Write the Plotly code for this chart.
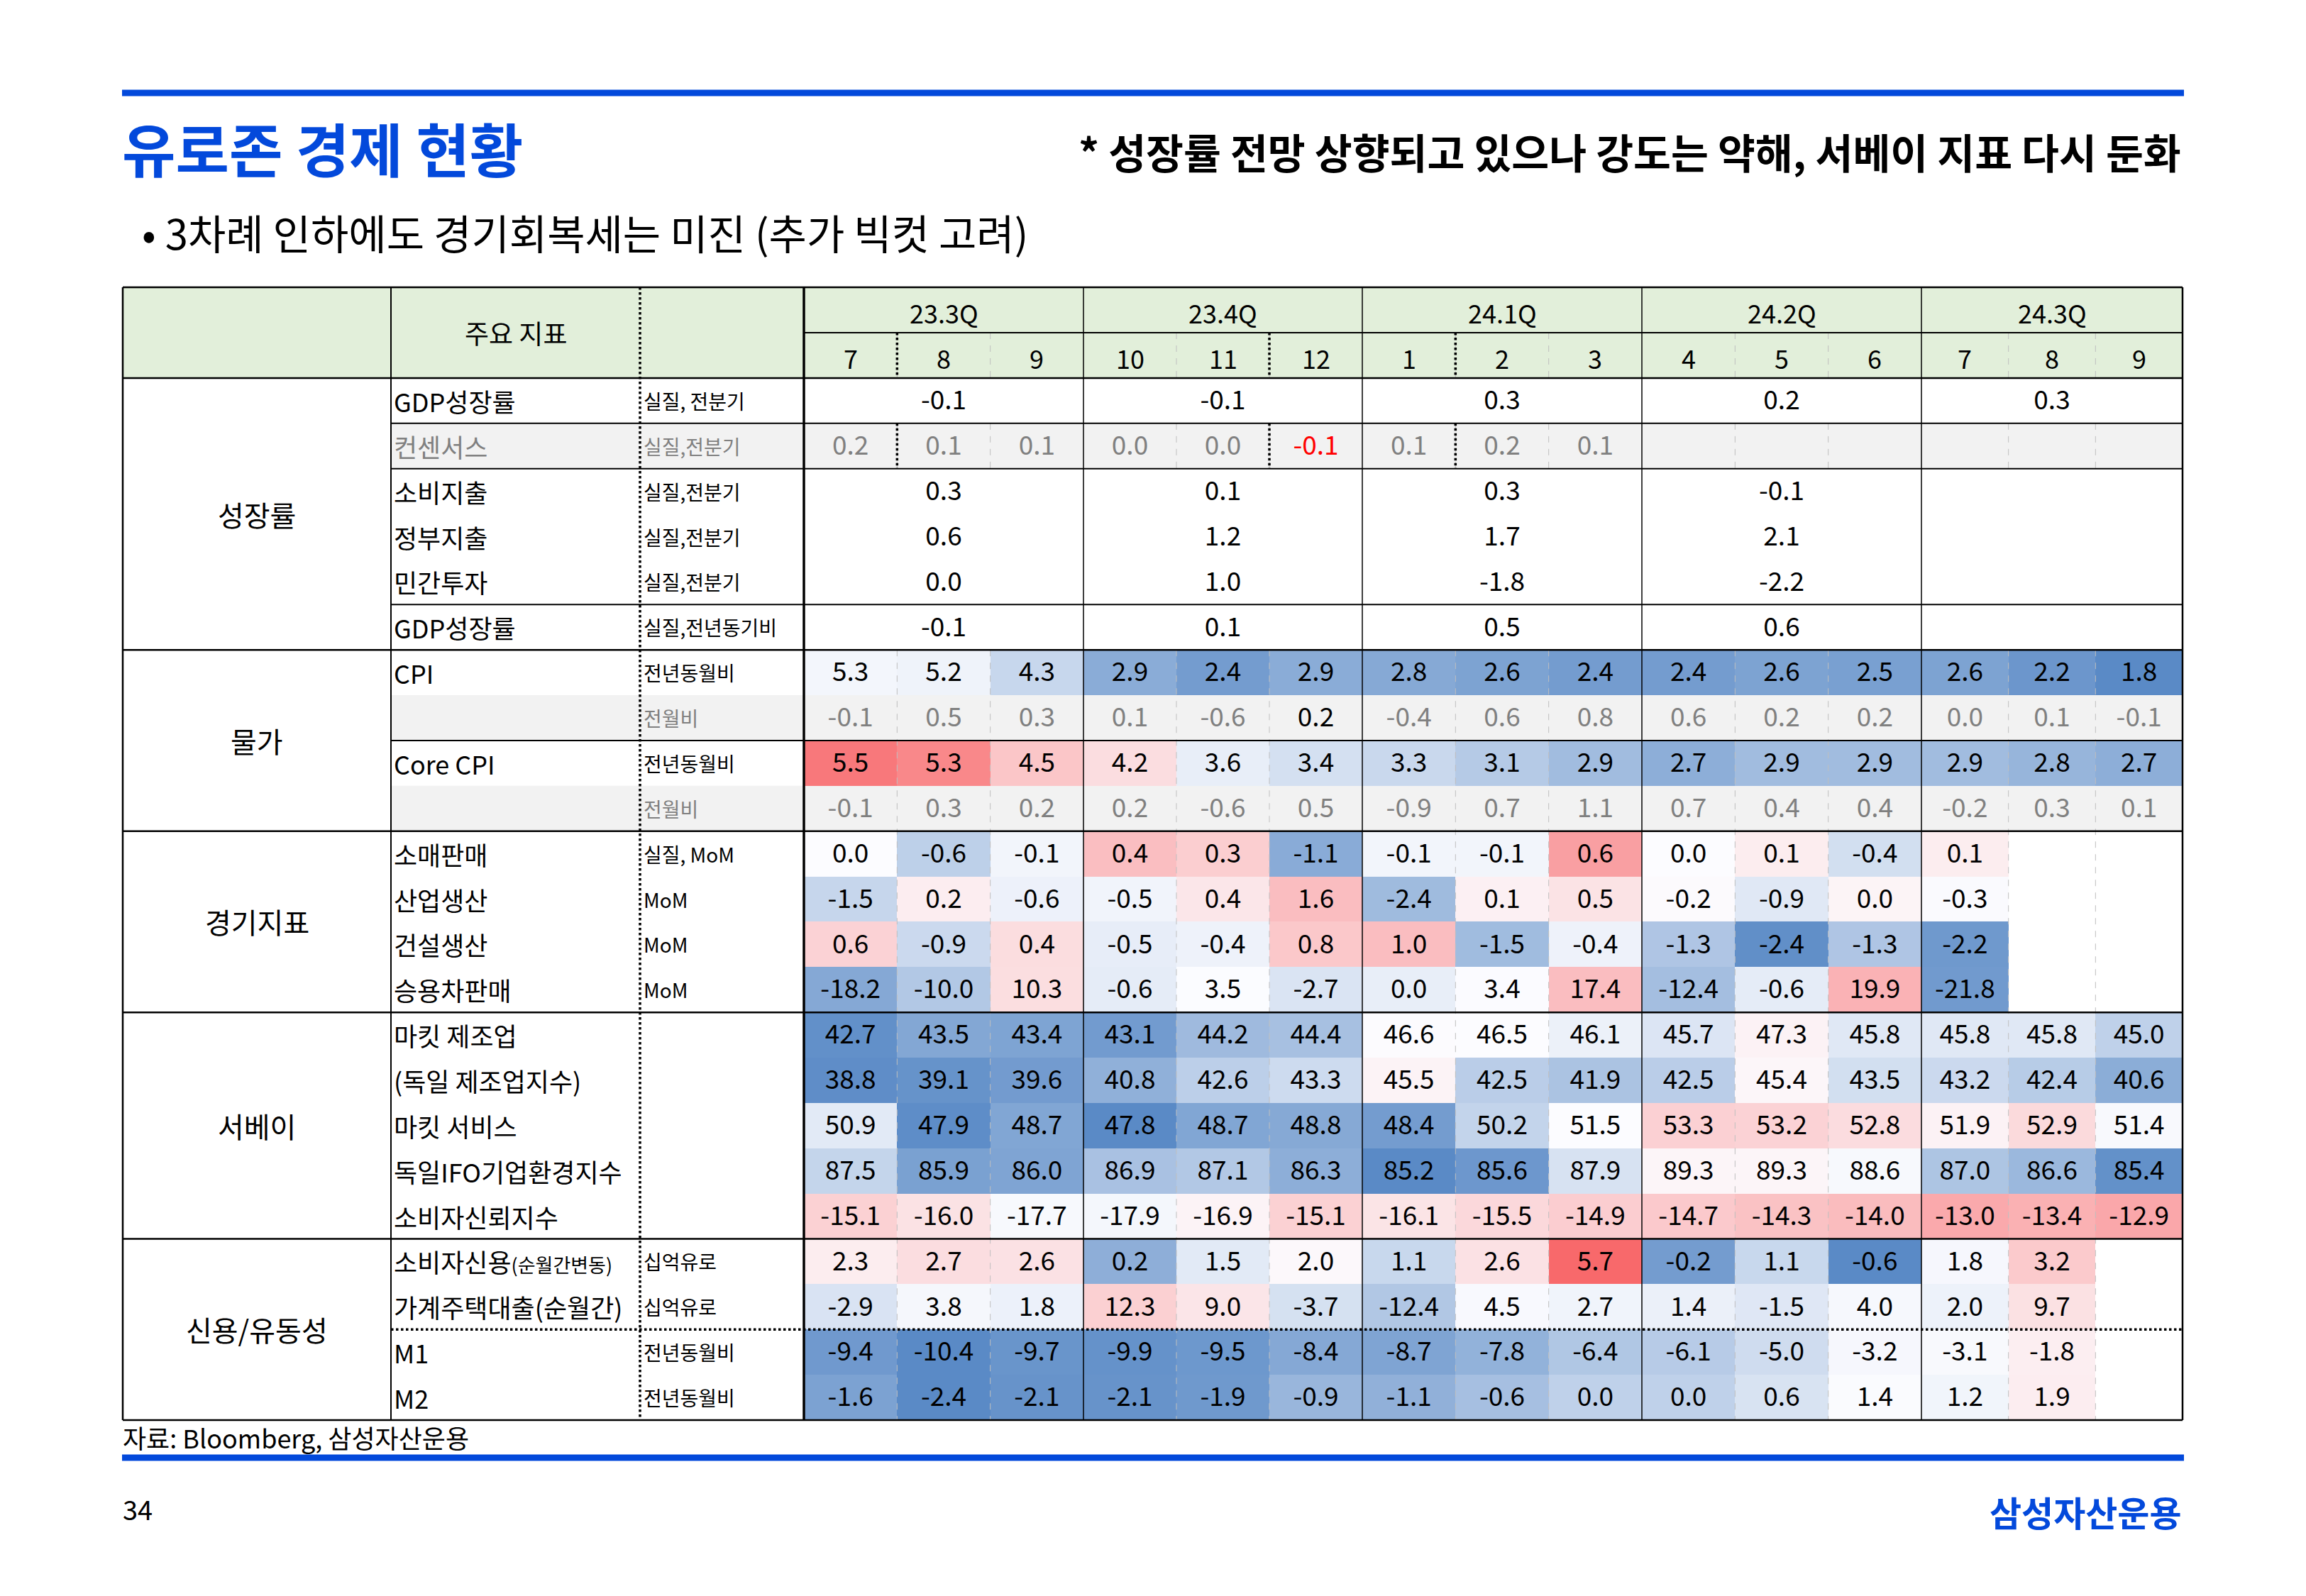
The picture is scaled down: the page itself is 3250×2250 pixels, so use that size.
import numpy as np
import plotly.graph_objects as go

# ---------------- data ----------------
quarters = ['23.3Q', '23.4Q', '24.1Q', '24.2Q', '24.3Q']
months = ['7', '8', '9', '10', '11', '12', '1', '2', '3', '4', '5', '6', '7', '8', '9']

groups = ['성장률', '물가', '경기지표', '서베이', '신용/유동성']
group_sizes = [6, 4, 4, 5, 4]

indicators = ['GDP성장률', '컨센서스', '소비지출', '정부지출', '민간투자', 'GDP성장률',
              'CPI', '', 'Core CPI', '',
              '소매판매', '산업생산', '건설생산', '승용차판매',
              '마킷 제조업', '(독일 제조업지수)', '마킷 서비스', '독일IFO기업환경지수', '소비자신뢰지수',
              '소비자신용<span style="font-size:27px">(순월간변동)</span>', '가계주택대출(순월간)', 'M1', 'M2']
units = ['실질, 전분기', '실질,전분기', '실질,전분기', '실질,전분기', '실질,전분기', '실질,전년동기비',
         '전년동월비', '전월비', '전년동월비', '전월비',
         '실질, MoM', 'MoM', 'MoM', 'MoM',
         '', '', '', '', '',
         '십억유로', '십억유로', '전년동월비', '전년동월비']

# quarterly rows
gdp_qoq = [-0.1, -0.1, 0.3, 0.2, 0.3]
consumption_qoq = [0.3, 0.1, 0.3, -0.1, None]
government_qoq = [0.6, 1.2, 1.7, 2.1, None]
investment_qoq = [0.0, 1.0, -1.8, -2.2, None]
gdp_yoy = [-0.1, 0.1, 0.5, 0.6, None]

# monthly rows
consensus_qoq = [0.2, 0.1, 0.1, 0.0, 0.0, -0.1, 0.1, 0.2, 0.1, None, None, None, None, None, None]
cpi_yoy = [5.3, 5.2, 4.3, 2.9, 2.4, 2.9, 2.8, 2.6, 2.4, 2.4, 2.6, 2.5, 2.6, 2.2, 1.8]
cpi_mom = [-0.1, 0.5, 0.3, 0.1, -0.6, 0.2, -0.4, 0.6, 0.8, 0.6, 0.2, 0.2, 0.0, 0.1, -0.1]
core_yoy = [5.5, 5.3, 4.5, 4.2, 3.6, 3.4, 3.3, 3.1, 2.9, 2.7, 2.9, 2.9, 2.9, 2.8, 2.7]
core_mom = [-0.1, 0.3, 0.2, 0.2, -0.6, 0.5, -0.9, 0.7, 1.1, 0.7, 0.4, 0.4, -0.2, 0.3, 0.1]
retail_mom = [0.0, -0.6, -0.1, 0.4, 0.3, -1.1, -0.1, -0.1, 0.6, 0.0, 0.1, -0.4, 0.1, None, None]
industry_mom = [-1.5, 0.2, -0.6, -0.5, 0.4, 1.6, -2.4, 0.1, 0.5, -0.2, -0.9, 0.0, -0.3, None, None]
construction_mom = [0.6, -0.9, 0.4, -0.5, -0.4, 0.8, 1.0, -1.5, -0.4, -1.3, -2.4, -1.3, -2.2, None, None]
car_sales_mom = [-18.2, -10.0, 10.3, -0.6, 3.5, -2.7, 0.0, 3.4, 17.4, -12.4, -0.6, 19.9, -21.8, None, None]
pmi_mfg = [42.7, 43.5, 43.4, 43.1, 44.2, 44.4, 46.6, 46.5, 46.1, 45.7, 47.3, 45.8, 45.8, 45.8, 45.0]
ger_mfg = [38.8, 39.1, 39.6, 40.8, 42.6, 43.3, 45.5, 42.5, 41.9, 42.5, 45.4, 43.5, 43.2, 42.4, 40.6]
pmi_svc = [50.9, 47.9, 48.7, 47.8, 48.7, 48.8, 48.4, 50.2, 51.5, 53.3, 53.2, 52.8, 51.9, 52.9, 51.4]
ifo = [87.5, 85.9, 86.0, 86.9, 87.1, 86.3, 85.2, 85.6, 87.9, 89.3, 89.3, 88.6, 87.0, 86.6, 85.4]
confidence = [-15.1, -16.0, -17.7, -17.9, -16.9, -15.1, -16.1, -15.5, -14.9, -14.7, -14.3, -14.0, -13.0, -13.4, -12.9]
consumer_credit = [2.3, 2.7, 2.6, 0.2, 1.5, 2.0, 1.1, 2.6, 5.7, -0.2, 1.1, -0.6, 1.8, 3.2, None]
mortgage = [-2.9, 3.8, 1.8, 12.3, 9.0, -3.7, -12.4, 4.5, 2.7, 1.4, -1.5, 4.0, 2.0, 9.7, None]
m1_yoy = [-9.4, -10.4, -9.7, -9.9, -9.5, -8.4, -8.7, -7.8, -6.4, -6.1, -5.0, -3.2, -3.1, -1.8, None]
m2_yoy = [-1.6, -2.4, -2.1, -2.1, -1.9, -0.9, -1.1, -0.6, 0.0, 0.0, 0.6, 1.4, 1.2, 1.9, None]

rows = [gdp_qoq, consensus_qoq, consumption_qoq, government_qoq, investment_qoq, gdp_yoy,
        cpi_yoy, cpi_mom, core_yoy, core_mom,
        retail_mom, industry_mom, construction_mom, car_sales_mom,
        pmi_mfg, ger_mfg, pmi_svc, ifo, confidence,
        consumer_credit, mortgage, m1_yoy, m2_yoy]

# ---------------- style ----------------
# per-row colour-scale domain (low, mid, high), like the sheet's per-row conditional format
color_domain = {6: (1.8, 5.5, 10.6), 8: (2.2, 3.8, 5.7),
                10: (-1.55, 0.0, 0.95), 11: (-4.0, -0.25, 4.1), 12: (-2.5, -0.2, 2.6), 13: (-26, 3.6, 36),
                14: (42.5, 46.5, 58), 15: (38.6, 45.2, 50), 16: (47.8, 51.5, 57.5), 17: (85.2, 88.7, 101),
                18: (-28, -17.4, -9.6),
                19: (-0.6, 1.9, 5.7), 20: (-33, 5.5, 28), 21: (-10.4, -2.9, 9), 22: (-2.4, 1.45, 6)}
grey_rows = [1, 7, 9]
black_cells = [(7, 5)]

FONT = 'Noto Sans CJK KR, Noto Sans, sans-serif'
BLUE = '#0349DB'
GREY_TXT = '#808080'
W, H = 3250, 2250
PAD = 8  # page body margin
X_LEFT, X_IND, X_UNIT, X_DATA, X_RIGHT = 173, 551, 902, 1133, 3076
Q_EDGES = [1133, 1527, 1920, 2314, 2708, 3076]
Y_TOP, Y_QM, Y_HEAD, Y_BOT = 405, 469, 533, 2002
TEXT_DY = 3

col_edges = []
for a, b in zip(Q_EDGES[:-1], Q_EDGES[1:]):
    col_edges += list(np.linspace(a, b, 4)[:-1])
col_edges.append(Q_EDGES[-1])
col_edges = np.array(col_edges)
col_mid = (col_edges[:-1] + col_edges[1:]) / 2
q_mid = [(a + b) / 2 for a, b in zip(Q_EDGES[:-1], Q_EDGES[1:])]
n_rows = len(rows)
row_edges = np.linspace(Y_HEAD, Y_BOT, n_rows + 1)
row_mid = (row_edges[:-1] + row_edges[1:]) / 2


def norm(v, lo, mid, hi):
    if v is None:
        return None
    if v < mid:
        return max(-1.0, (v - mid) / (mid - lo))
    return min(1.0, (v - mid) / (hi - mid))


z = []
for i, r in enumerate(rows):
    if i in color_domain:
        z.append([norm(v, *color_domain[i]) for v in r])
    else:
        z.append([None] * len(months))

fig = go.Figure()
fig.add_trace(go.Heatmap(x=col_edges, y=row_edges, z=z, zmin=-1, zmax=1,
                         colorscale=[[0, '#5A8AC6'], [0.5, '#FCFCFF'], [1, '#F8696B']],
                         showscale=False, hoverinfo='skip'))

# cell values
tx, ty, tt, tc = [], [], [], []
for i, r in enumerate(rows):
    xs = q_mid if len(r) == len(quarters) else col_mid
    for j, v in enumerate(r):
        if v is None:
            continue
        tx.append(xs[j])
        ty.append(row_mid[i] + TEXT_DY)
        tt.append(f'{v:.1f}')
        c = 'black'
        if i in grey_rows and (i, j) not in black_cells:
            c = GREY_TXT
        if i == 1 and v < 0:
            c = '#FF0000'
        tc.append(c)
fig.add_trace(go.Scatter(x=tx, y=ty, text=tt, mode='text', hoverinfo='skip', showlegend=False,
                         textfont=dict(family=FONT, size=37, color=tc), cliponaxis=False))

ann = []


def label(x, y, text, size, color='black', anchor='center'):
    ann.append(dict(x=x, y=y, xref='x', yref='y', text=text, showarrow=False,
                    xanchor=anchor, yanchor='middle', font=dict(family=FONT, size=size, color=color)))


# header
label((X_IND + X_UNIT) / 2, (Y_TOP + Y_HEAD) / 2, '주요 지표', 37)
for q, x in zip(quarters, q_mid):
    label(x, (Y_TOP + Y_QM) / 2 + TEXT_DY, q, 36)
for m, x in zip(months, col_mid):
    label(x, (Y_QM + Y_HEAD) / 2 + TEXT_DY, m, 36)

# groups, indicators, units
start = 0
for g, n in zip(groups, group_sizes):
    label((X_LEFT + X_IND) / 2, (row_edges[start] + row_edges[start + n]) / 2, g, 40)
    start += n
for i in range(n_rows):
    c = GREY_TXT if i == 1 else 'black'
    label(X_IND + 2, row_mid[i], indicators[i], 36, c, 'left')
    label(X_UNIT + 3, row_mid[i], units[i], 28, GREY_TXT if i in grey_rows else 'black', 'left')

# titles and footer
label(170, 207, '<b>유로존 경제 현황</b>', 82, BLUE, 'left')
label(3076, 213, '<b>* 성장률 전망 상향되고 있으나 강도는 약해, 서베이 지표 다시 둔화</b>', 57.5, 'black', 'right')
label(198, 327, '• 3차례 인하에도 경기회복세는 미진 (추가 빅컷 고려)', 58, 'black', 'left')
label(171, 2026, '자료: Bloomberg, 삼성자산운용', 36, 'black', 'left')
label(171, 2126, '34', 38, 'black', 'left')
label(3076, 2130, '<b>삼성자산운용</b>', 49, BLUE, 'right')

shapes = []


def rect(x0, x1, y0, y1, fill):
    shapes.append(dict(type='rect', xref='x', yref='y', x0=x0, x1=x1, y0=y0, y1=y1,
                       fillcolor=fill, line_width=0, layer='below'))


def line(x0, y0, x1, y1, width=2, dash='solid', color='black'):
    shapes.append(dict(type='line', xref='x', yref='y', x0=x0, y0=y0, x1=x1, y1=y1,
                       line=dict(color=color, width=width, dash=dash), layer='above'))


rect(X_LEFT, X_RIGHT, Y_TOP, Y_HEAD, '#E2EFDA')
for i in grey_rows:
    rect(X_IND, X_RIGHT, row_edges[i], row_edges[i + 1], '#F2F2F2')

# faint month separators
inner = [k for k in range(1, len(col_edges) - 1) if col_edges[k] not in Q_EDGES]
for k in inner:
    x = col_edges[k]
    for y0, y1 in [(Y_QM, Y_HEAD), (row_edges[1], row_edges[2]), (row_edges[6], Y_BOT)]:
        line(x, y0, x, y1, 1, 'dash', '#BFBFBF')
for k in [1, 5, 7]:
    x = col_edges[k]
    for y0, y1 in [(Y_QM, Y_HEAD), (row_edges[1], row_edges[2])]:
        line(x, y0, x, y1, 3.5, 'dot')

# horizontal rules
group_lines = [Y_TOP, Y_HEAD] + [row_edges[k] for k in np.cumsum(group_sizes)]
for y in group_lines:
    line(X_LEFT, y, X_RIGHT, y, 2.5)
line(X_DATA, Y_QM, X_RIGHT, Y_QM, 2)
for k in [1, 2, 5, 8]:
    line(X_IND, row_edges[k], X_RIGHT, row_edges[k], 2)
line(X_IND, row_edges[21], X_RIGHT, row_edges[21], 3.5, 'dot')

# vertical rules
line(X_LEFT, Y_TOP, X_LEFT, Y_BOT, 2.5)
line(X_IND, Y_TOP, X_IND, Y_BOT, 2)
line(X_UNIT, Y_TOP, X_UNIT, Y_BOT, 3.5, 'dot')
line(X_DATA, Y_TOP, X_DATA, Y_BOT, 3.5)
for x in Q_EDGES[1:-1]:
    line(x, Y_TOP, x, Y_BOT, 1.5)
line(X_RIGHT, Y_TOP, X_RIGHT, Y_BOT, 2.5)

# blue page rules
line(172, 131, 3078, 131, 9, 'solid', BLUE)
line(172, 2055, 3078, 2055, 9, 'solid', BLUE)

fig.update_layout(width=W - PAD, height=H - PAD, margin=dict(l=0, r=0, t=0, b=0),
                  paper_bgcolor='white', plot_bgcolor='white',
                  xaxis=dict(range=[PAD, W], visible=False, fixedrange=True),
                  yaxis=dict(range=[H, PAD], visible=False, fixedrange=True),
                  annotations=ann, shapes=shapes, showlegend=False)
fig.write_html('out.html')
